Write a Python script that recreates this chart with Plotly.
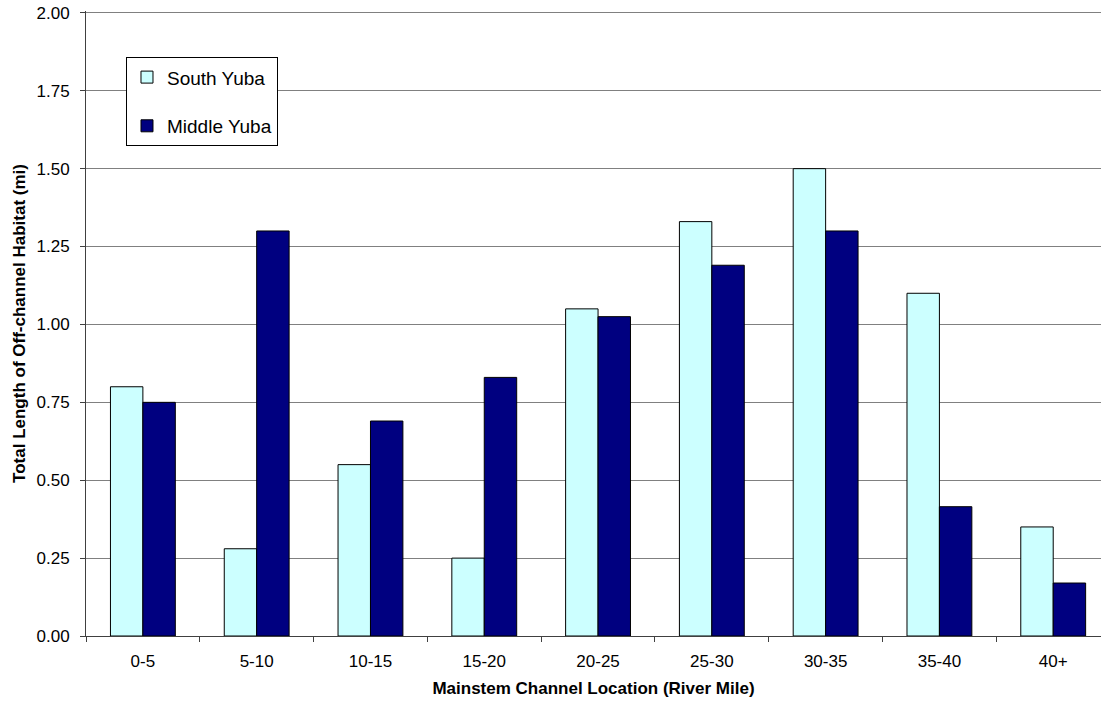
import plotly.graph_objects as go

categories = ["0-5", "5-10", "10-15", "15-20", "20-25", "25-30", "30-35", "35-40", "40+"]
south_yuba = [0.80, 0.28, 0.55, 0.25, 1.05, 1.33, 1.50, 1.10, 0.35]
middle_yuba = [0.75, 1.30, 0.69, 0.83, 1.025, 1.19, 1.30, 0.415, 0.17]
y_ticks = [0, 0.25, 0.5, 0.75, 1.0, 1.25, 1.5, 1.75, 2.0]

FONT = "Liberation Sans, Arial, sans-serif"

fig = go.Figure()
fig.add_trace(go.Bar(x=categories, y=south_yuba, name="South Yuba",
                     marker=dict(color="#CCFFFF", line=dict(color="#000000", width=1)),
                     legendgroup="a"))
fig.add_trace(go.Bar(x=categories, y=middle_yuba, name="Middle Yuba",
                     marker=dict(color="#000080", line=dict(color="#000000", width=1)),
                     legendgroup="b"))

fig.update_layout(
    width=1101, height=702,
    margin=dict(l=86, r=0, t=11, b=66),
    paper_bgcolor="white", plot_bgcolor="white",
    font=dict(family=FONT, size=17, color="#000000"),
    barmode="group", bargap=0.43, bargroupgap=0,
    showlegend=True,
    legend=dict(
        x=0.0394, y=0.926, xanchor="left", yanchor="top",
        bordercolor="#000000", borderwidth=1, bgcolor="white",
        font=dict(family=FONT, size=19),
        traceorder="grouped", tracegroupgap=21,
    ),
    xaxis=dict(
        type="category", range=[-0.5, 8.42],
        showline=True, linecolor="#404040", linewidth=1,
        ticks="outside", ticklen=5, tickcolor="#404040", tickson="boundaries",
        ticklabelstandoff=10,
        showgrid=False,
        tickfont=dict(family=FONT, size=17),
        title=dict(text="<b>Mainstem Channel Location (River Mile)</b>",
                   font=dict(family=FONT, size=17), standoff=11),
    ),
    yaxis=dict(
        range=[0, 2.006], tickvals=y_ticks, tickformat=".2f",
        showline=True, linecolor="#404040", linewidth=1,
        ticks="outside", ticklen=5, tickcolor="#404040",
        ticklabelstandoff=7,
        showgrid=True, gridcolor="#808080", gridwidth=1,
        zeroline=False,
        tickfont=dict(family=FONT, size=17),
        title=dict(text="<b>Total Length of Off-channel Habitat (mi)</b>",
                   font=dict(family=FONT, size=17), standoff=6),
    ),
)

fig.write_html("out.html", config={"displayModeBar": False},
               post_script="document.body.style.margin='0';")
